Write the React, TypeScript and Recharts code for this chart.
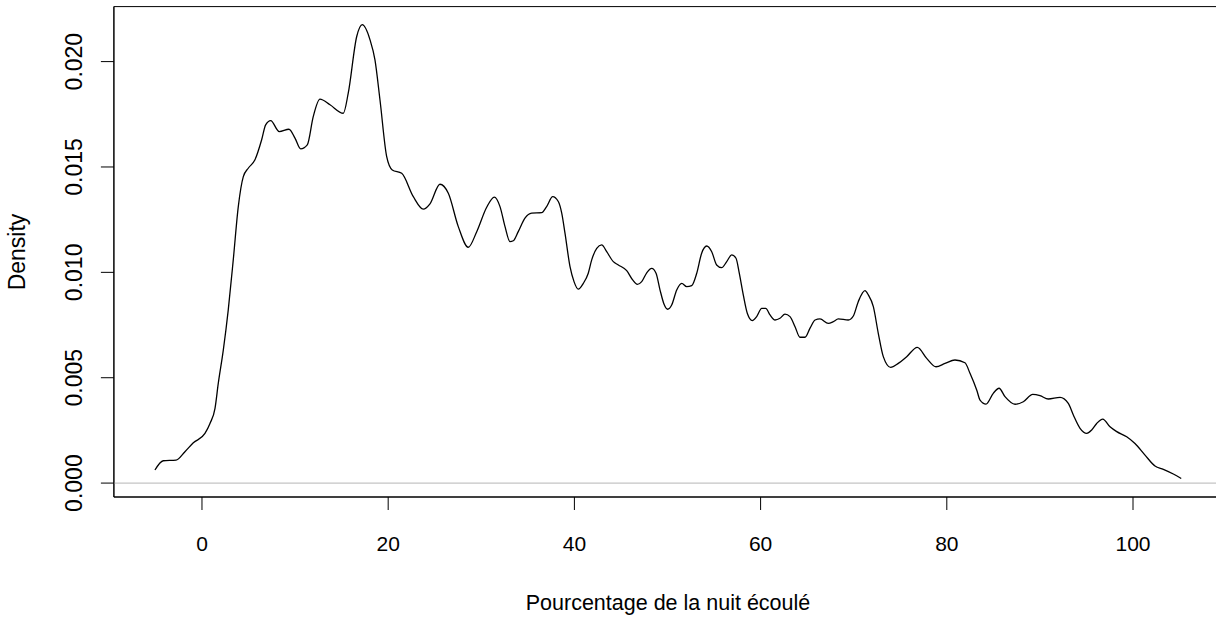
import React from "react";
import { LineChart, Line, XAxis, YAxis, ReferenceLine, ReferenceArea } from "recharts";

const percentNight = [-5.05, -4.16, -2.79, -1.83, -0.93, 0.32, 0.86, 1.40, 1.75, 2.29, 2.82, 3.36, 3.90, 4.44, 4.97, 5.69, 6.41, 6.84, 7.38, 8.30, 9.34, 9.99, 10.60, 11.31, 11.95, 12.67, 13.75, 15.18, 15.71, 16.62, 17.22, 18.05, 18.58, 19.12, 19.84, 20.44, 21.45, 22.70, 23.77, 24.49, 25.56, 26.46, 27.53, 28.60, 29.51, 30.58, 31.40, 32.01, 32.55, 33.08, 33.44, 33.97, 34.69, 35.41, 36.49, 37.02, 37.67, 38.27, 38.64, 38.99, 39.53, 39.96, 40.42, 40.96, 41.49, 41.86, 42.40, 42.93, 43.47, 44.18, 44.72, 45.62, 46.26, 46.76, 47.23, 47.77, 48.30, 48.77, 49.20, 49.62, 50.02, 50.45, 50.99, 51.53, 52.06, 52.60, 53.14, 53.67, 54.21, 54.75, 55.28, 55.82, 56.36, 56.90, 57.36, 57.71, 58.14, 58.57, 59.11, 59.58, 60.12, 60.55, 61.01, 61.55, 62.08, 62.62, 63.16, 63.70, 64.23, 64.77, 65.31, 65.85, 66.38, 67.27, 67.81, 68.35, 69.42, 69.96, 70.49, 71.21, 71.57, 72.11, 72.64, 73.18, 73.97, 74.79, 75.69, 76.83, 77.84, 78.84, 79.81, 80.88, 81.95, 82.49, 83.21, 83.57, 84.21, 84.99, 85.61, 86.25, 87.33, 88.22, 89.23, 90.01, 90.90, 92.16, 93.05, 93.59, 94.31, 95.03, 95.56, 96.10, 96.75, 97.53, 98.25, 99.32, 100.21, 101.29, 102.36, 103.26, 104.33, 105.18];

const densityValues = [0.00062, 0.00106, 0.00109, 0.00149, 0.00191, 0.00236, 0.00283, 0.00355, 0.00473, 0.00631, 0.00821, 0.01059, 0.01312, 0.01454, 0.01494, 0.01534, 0.01629, 0.01700, 0.01720, 0.01668, 0.01679, 0.01637, 0.01586, 0.01605, 0.01739, 0.01822, 0.01795, 0.01755, 0.01850, 0.02119, 0.02175, 0.02103, 0.02008, 0.01818, 0.01549, 0.01486, 0.01470, 0.01359, 0.01300, 0.01325, 0.01418, 0.01375, 0.01217, 0.01119, 0.01193, 0.01309, 0.01357, 0.01312, 0.01217, 0.01146, 0.01150, 0.01193, 0.01257, 0.01281, 0.01283, 0.01312, 0.01359, 0.01336, 0.01281, 0.01186, 0.01027, 0.00956, 0.00920, 0.00948, 0.00996, 0.01059, 0.01114, 0.01130, 0.01098, 0.01051, 0.01035, 0.01008, 0.00964, 0.00943, 0.00956, 0.00998, 0.01019, 0.00996, 0.00916, 0.00850, 0.00825, 0.00845, 0.00916, 0.00948, 0.00932, 0.00937, 0.00996, 0.01091, 0.01125, 0.01098, 0.01035, 0.01022, 0.01051, 0.01083, 0.01067, 0.00996, 0.00893, 0.00806, 0.00771, 0.00790, 0.00829, 0.00829, 0.00798, 0.00774, 0.00782, 0.00802, 0.00790, 0.00742, 0.00692, 0.00692, 0.00735, 0.00774, 0.00779, 0.00758, 0.00766, 0.00779, 0.00774, 0.00793, 0.00861, 0.00913, 0.00893, 0.00837, 0.00711, 0.00600, 0.00549, 0.00568, 0.00600, 0.00644, 0.00592, 0.00552, 0.00568, 0.00584, 0.00571, 0.00521, 0.00442, 0.00394, 0.00375, 0.00426, 0.00450, 0.00410, 0.00374, 0.00386, 0.00421, 0.00415, 0.00399, 0.00407, 0.00378, 0.00323, 0.00260, 0.00236, 0.00252, 0.00283, 0.00304, 0.00267, 0.00244, 0.00220, 0.00188, 0.00133, 0.00081, 0.00065, 0.00043, 0.00022];

const xTicks = [0, 20, 40, 60, 80, 100];
const yTicks = [0, 0.005, 0.01, 0.015, 0.02];
const yTickLabels = ["0.000", "0.005", "0.010", "0.015", "0.020"];

const xDomain: [number, number] = [-9.46, 109.59];
const yDomain: [number, number] = [-0.00066, 0.02261];

const xTitle = "Pourcentage de la nuit écoulé";
const yTitle = "Density";

const n = Math.min(percentNight.length, densityValues.length);
const data = Array.from({ length: n }, (_, i) => ({ x: percentNight[i], y: densityValues[i] }));

const FONT = "'Liberation Sans', Arial, 'DejaVu Sans', sans-serif";

const XTick = (props: any) => {
  const { x, y, payload } = props;
  return (
    <text x={x} y={y + 41} textAnchor="middle" fontFamily={FONT} fontSize={21} fill="#000">
      {String(payload.value)}
    </text>
  );
};

const YTick = (props: any) => {
  const { x, y, payload } = props;
  const idx = yTicks.indexOf(payload.value);
  const label = idx >= 0 ? yTickLabels[idx] : String(payload.value);
  const bx = x - 19;
  return (
    <text
      x={bx}
      y={y}
      transform={`rotate(-90, ${bx}, ${y})`}
      textAnchor="middle"
      fontFamily={FONT}
      fontSize={23}
      fill="#000"
    >
      {label}
    </text>
  );
};

export default function App() {
  return (
    <div style={{ position: "absolute", left: 0, top: 0, width: 1216, height: 617, overflow: "hidden", background: "#fff" }}>
      <LineChart
        width={1230}
        height={617}
        data={data}
        margin={{ top: 6.6, right: 7.7, bottom: 0, left: 0 }}
      >
        <XAxis
          dataKey="x"
          type="number"
          domain={xDomain}
          allowDataOverflow
          ticks={xTicks}
          tickSize={13}
          tickMargin={0}
          height={120}
          stroke="#000"
          tickLine={{ stroke: "#000", strokeWidth: 1 }}
          axisLine={{ stroke: "#000", strokeWidth: 1 }}
          tick={<XTick />}
          interval={0}
        />
        <YAxis
          dataKey="y"
          type="number"
          domain={yDomain}
          allowDataOverflow
          ticks={yTicks}
          tickSize={13}
          tickMargin={0}
          width={113.9}
          stroke="#000"
          tickLine={{ stroke: "#000", strokeWidth: 1 }}
          axisLine={{ stroke: "#000", strokeWidth: 1 }}
          tick={<YTick />}
          interval={0}
        />
        <ReferenceArea
          x1={xDomain[0]}
          x2={xDomain[1]}
          y1={yDomain[0]}
          y2={yDomain[1]}
          fill="none"
          fillOpacity={0}
          stroke="#000"
          strokeWidth={1}
          ifOverflow="visible"
        />
        <ReferenceLine y={0} stroke="#c4c4c4" strokeWidth={1.3} ifOverflow="visible" />
        <Line
          type="monotone"
          dataKey="y"
          stroke="#000"
          strokeWidth={1.3}
          dot={false}
          activeDot={false}
          isAnimationActive={false}
        />
        <text x={668} y={610} textAnchor="middle" fontFamily={FONT} fontSize={21.5} fill="#000">
          {xTitle}
        </text>
        <text
          x={25}
          y={252}
          transform="rotate(-90, 25, 252)"
          textAnchor="middle"
          fontFamily={FONT}
          fontSize={23}
          fill="#000"
        >
          {yTitle}
        </text>
      </LineChart>
    </div>
  );
}
